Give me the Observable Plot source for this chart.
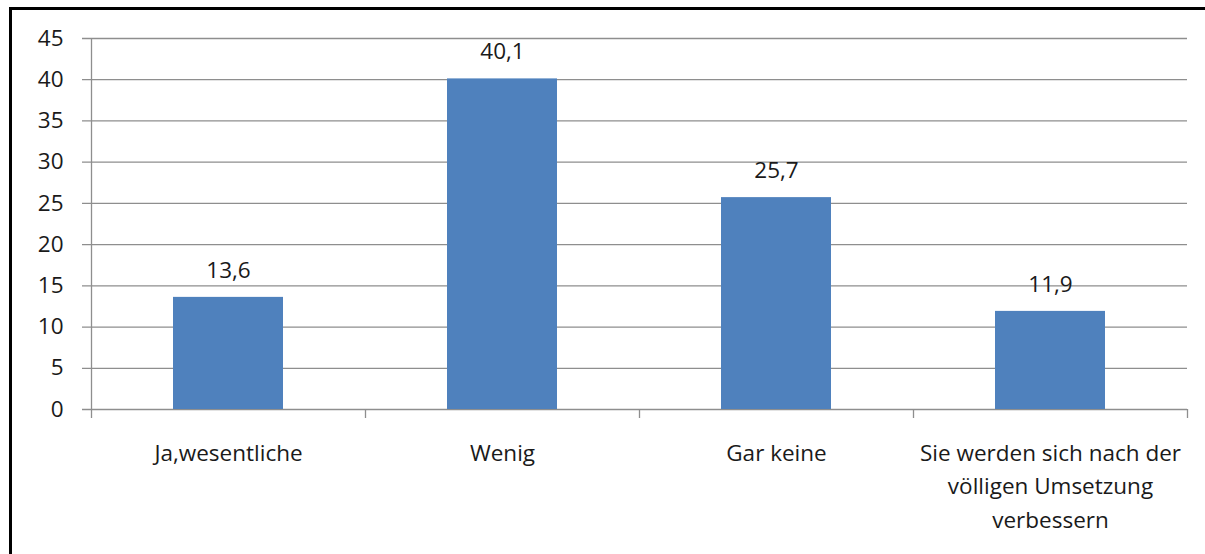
<!DOCTYPE html>
<html>
<head>
<meta charset="utf-8">
<script src="https://cdn.jsdelivr.net/npm/d3@7"></script>
<script src="https://cdn.jsdelivr.net/npm/@observablehq/plot@0.6"></script>
<style>
  html, body { margin: 0; padding: 0; background: #fff; overflow: hidden; }
  #wrap { position: relative; width: 1205px; height: 554px; }
  #frame { position: absolute; left: 9px; top: 7px; width: 1300px; height: 700px;
           border-left: 3px solid #000; border-top: 3px solid #000; box-sizing: border-box; }
  #chart { position: absolute; left: 0; top: 0; }
</style>
</head>
<body>
<div id="wrap"><div id="frame"></div><div id="chart"></div></div>
<script>
const categories = [
  "Ja,wesentliche",
  "Wenig",
  "Gar keine",
  "Sie werden sich nach der völligen Umsetzung verbessern"
];
const tickLabels = [
  "Ja,wesentliche",
  "Wenig",
  "Gar keine",
  "Sie werden sich nach der\nvölligen Umsetzung\nverbessern"
];
const values = [13.6, 40.1, 25.7, 11.9];
const yTicks = [0, 5, 10, 15, 20, 25, 30, 35, 40, 45];

const data = categories.map((c, i) => ({category: c, value: values[i]}));
const fmt = d3.formatLocale({decimal: ",", thousands: "."}).format(".1f");
const labelOf = new Map(categories.map((c, i) => [c, tickLabels[i]]));

const font = "'Open Sans', sans-serif";
const gray = "#8e8e8e";
const fs = 22.5;
const halfStep = (1205 - 91 - 18) / categories.length / 2;

const chart = Plot.plot({
  width: 1205,
  height: 554,
  marginLeft: 91,
  marginRight: 18,
  marginTop: 38,
  marginBottom: 145,
  style: {fontFamily: font, fontSize: fs + "px", color: "#1a1a1a", background: "transparent"},
  x: {domain: categories, paddingInner: 0.6, paddingOuter: 0.3, label: null},
  y: {domain: [0, 45], label: null},
  marks: [
    Plot.ruleY(yTicks, {stroke: gray, strokeWidth: 1.3, insetLeft: -9}),
    Plot.ruleX([categories[0]], {y1: 0, y2: 45, stroke: gray, strokeWidth: 1.3, dx: -halfStep}),
    Plot.ruleX(categories, {y1: 0, y2: 0, insetBottom: -9, stroke: gray, strokeWidth: 1.3, dx: -halfStep}),
    Plot.ruleX([categories[categories.length - 1]], {y1: 0, y2: 0, insetBottom: -9, stroke: gray, strokeWidth: 1.3, dx: halfStep}),
    Plot.barY(data, {x: "category", y: "value", fill: "#4f81bd"}),
    Plot.text(data, {x: "category", y: "value", text: d => fmt(d.value), dy: -27, fill: "#1a1a1a", fontSize: fs}),
    Plot.axisY({ticks: yTicks, tickSize: 0, tickPadding: 28, fontSize: fs, fill: "#1a1a1a", label: null}),
    Plot.axisX({tickSize: 0, tickPadding: 28, tickFormat: d => labelOf.get(d), lineHeight: 1.48, fontSize: fs, fill: "#1a1a1a", label: null})
  ]
});
document.getElementById("chart").appendChild(chart);
</script>
</body>
</html>
